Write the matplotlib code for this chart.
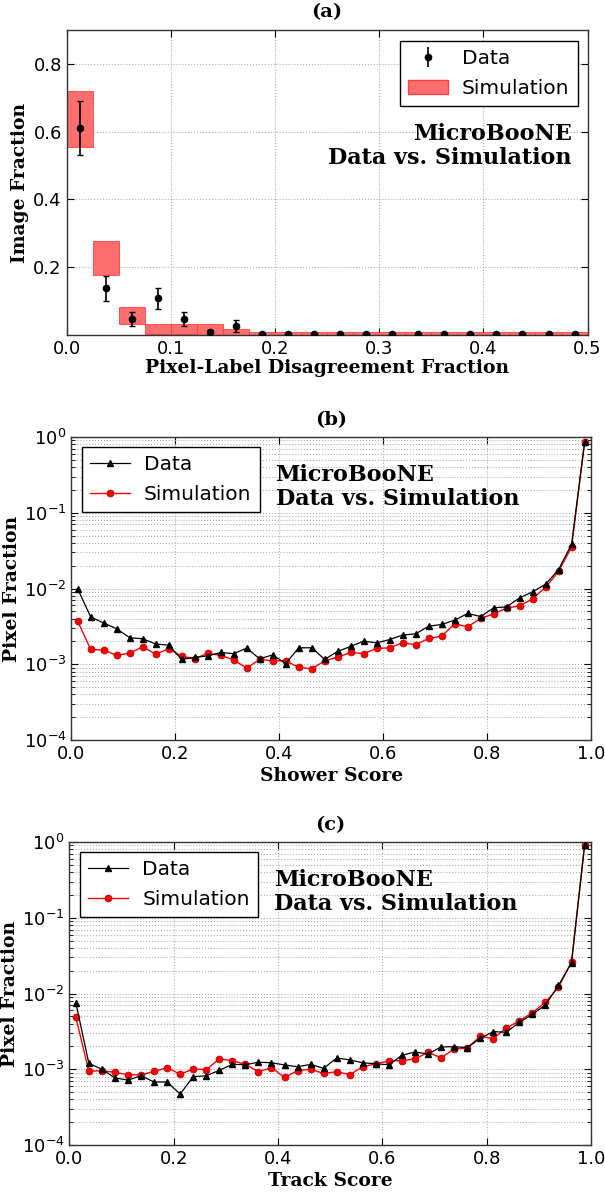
import matplotlib
matplotlib.use("Agg")
import matplotlib.pyplot as plt
from matplotlib.patches import Patch
from matplotlib.ticker import LogLocator, NullFormatter
import numpy as np

# ---- panel (a): pixel-label disagreement, 20 bins of 0.025 ----
dis_edges = np.arange(0, 0.5001, 0.025)
dis_data = [0.611, 0.138, 0.048, 0.108, 0.048, 0.010, 0.027,
            0.004, 0.004, 0.004, 0.004, 0.004, 0.004, 0.004,
            0.004, 0.004, 0.004, 0.004, 0.004, 0.004]
dis_err = [0.079, 0.037, 0.021, 0.032, 0.021, 0.005, 0.017,
           0.003, 0.003, 0.003, 0.003, 0.003, 0.003, 0.003,
           0.003, 0.003, 0.003, 0.003, 0.003, 0.003]
dis_sim_lo = [0.556, 0.178, 0.033, 0.003, 0.003, 0.0, 0.0,
              0.0, 0.0, 0.0, 0.0, 0.0, 0.0, 0.0,
              0.0, 0.0, 0.0, 0.0, 0.0, 0.0]
dis_sim_hi = [0.719, 0.276, 0.082, 0.033, 0.033, 0.031, 0.017,
              0.009, 0.009, 0.009, 0.009, 0.009, 0.009, 0.009,
              0.009, 0.009, 0.009, 0.009, 0.009, 0.009]

# ---- panels (b), (c): 40 bins of 0.025 ----
score_x = np.arange(0.0125, 1.0, 0.025)
shower_data = [0.0098, 0.0042, 0.0035, 0.00294, 0.00224, 0.00217, 0.00185, 0.00179,
               0.00116, 0.00123, 0.00129, 0.00143, 0.00138, 0.00163, 0.00118, 0.00133,
               0.00102, 0.00165, 0.00165, 0.00116, 0.00148, 0.00172, 0.00202, 0.00192,
               0.00212, 0.00243, 0.00252, 0.00318, 0.00335, 0.00382, 0.00468, 0.00427,
               0.00556, 0.00573, 0.00753, 0.00904, 0.0114, 0.0178, 0.0385, 0.85]
shower_sim = [0.00367, 0.00157, 0.00154, 0.00131, 0.00140, 0.00170, 0.00136, 0.00160,
              0.00127, 0.00119, 0.00139, 0.00131, 0.00114, 0.00089, 0.00116, 0.00111,
              0.00111, 0.00091, 0.00087, 0.00111, 0.00124, 0.00143, 0.00138, 0.00162,
              0.00165, 0.00192, 0.00181, 0.00219, 0.00235, 0.00342, 0.00312, 0.00402,
              0.00463, 0.00550, 0.00591, 0.00731, 0.0104, 0.0168, 0.0351, 0.85]
track_data = [0.00759, 0.0012, 0.0010, 0.00077, 0.00072, 0.00082, 0.00068, 0.00068,
              0.00047, 0.0008, 0.00082, 0.00097, 0.00116, 0.00115, 0.00124, 0.00122,
              0.00114, 0.00108, 0.00116, 0.00103, 0.00141, 0.00133, 0.00122, 0.00118,
              0.00115, 0.00153, 0.00169, 0.00159, 0.00197, 0.00199, 0.00193, 0.00256,
              0.00314, 0.00308, 0.00417, 0.00531, 0.00706, 0.0128, 0.0255, 0.90]
track_sim = [0.0049, 0.00094, 0.00096, 0.00091, 0.00085, 0.00084, 0.00094, 0.00105,
             0.00086, 0.00101, 0.00099, 0.00137, 0.0013, 0.00116, 0.00093, 0.00105,
             0.00078, 0.00096, 0.0010, 0.00088, 0.00093, 0.00085, 0.00108, 0.00118,
             0.00129, 0.0013, 0.00137, 0.00167, 0.00142, 0.00185, 0.00191, 0.00272,
             0.00254, 0.00351, 0.00434, 0.00559, 0.00766, 0.0121, 0.0261, 0.90]

SERIF = "DejaVu Serif"
TAG = "MicroBooNE\nData vs. Simulation"
GRID = dict(color="#b0b0b0", linestyle=":", linewidth=0.8)
SIM_FILL = "#ff6e6e"
SIM_EDGE = "#ff4040"


def style_axes(ax):
    ax.tick_params(direction="in", top=True, right=True, labelsize=13,
                   length=5, width=0.8)
    ax.tick_params(which="minor", direction="in", top=True, right=True, length=3)
    for s in ax.spines.values():
        s.set_linewidth(1.0)
        s.set_color("#333333")


def bold(ax, txt, **kw):
    return ax.text(s=txt, family=SERIF, fontweight="bold", transform=ax.transAxes, **kw)


LEG = dict(fontsize=14.5, fancybox=False, framealpha=1, edgecolor="k",
           borderpad=0.4, borderaxespad=0, handlelength=2.0, handletextpad=0.7,
           labelspacing=0.55)

fig = plt.figure(figsize=(6.05, 11.93), dpi=100)

# ---------------- (a) ----------------
ax = fig.add_axes([0.1102, 0.7192, 0.861, 0.2557])
lo = np.array(dis_sim_lo)
hi = np.array(dis_sim_hi)
ax.bar(dis_edges[:-1], hi - lo, bottom=lo, width=0.025, align="edge",
       color=SIM_FILL, edgecolor=SIM_EDGE, linewidth=0.6, zorder=2)
centers = dis_edges[:-1] + 0.0125
ax.errorbar(centers, dis_data, yerr=dis_err, fmt="o", color="k", ms=4.5,
            capsize=2, elinewidth=1.2, capthick=1.0, zorder=3)
ax.set_xlim(0, 0.5)
ax.set_ylim(0, 0.9)
ax.set_yticks([0.2, 0.4, 0.6, 0.8])
ax.set_xticks(np.arange(0, 0.51, 0.1))
ax.set_xticklabels(["0.0", "0.1", "0.2", "0.3", "0.4", "0.5"])
ax.grid(True, **GRID)
ax.set_axisbelow(True)
style_axes(ax)
ax.set_xlabel("Pixel-Label Disagreement Fraction", family=SERIF, fontweight="bold", fontsize=13.5)
ax.set_ylabel("Image Fraction", family=SERIF, fontweight="bold", fontsize=13.5)
ax.xaxis.set_label_coords(0.5, -0.08)
ax.yaxis.set_label_coords(-0.072, 0.5)
bold(ax, "(a)", x=0.5, y=1.06, ha="center", va="center", fontsize=14)
bold(ax, TAG, x=0.97, y=0.62, ha="right", va="center", fontsize=16, linespacing=1.15)
h_data = ax.errorbar([], [], yerr=[], fmt="o", color="k", ms=4.5, capsize=2, elinewidth=1.2)
h_sim = Patch(facecolor=SIM_FILL, edgecolor=SIM_EDGE)
leg = ax.legend([h_data, h_sim], ["Data", "Simulation"], loc="upper right",
                bbox_to_anchor=(0.981, 0.965), **LEG)
leg.get_frame().set_linewidth(1.0)


def score_panel(rect, data, sim, xlabel, tag):
    ax = fig.add_axes(rect)
    ax.plot(score_x, data, color="k", lw=0.9, marker="^", ms=4.5, label="Data", zorder=3)
    ax.plot(score_x, sim, color="red", lw=1.0, marker="o", ms=5, mfc="red",
            mec="#b00000", mew=0.5, label="Simulation", zorder=2)
    ax.set_yscale("log")
    ax.set_xlim(0, 1)
    ax.set_ylim(1e-4, 1)
    ax.yaxis.set_minor_locator(LogLocator(base=10, subs=np.arange(2, 10)))
    ax.yaxis.set_minor_formatter(NullFormatter())
    ax.set_xticks(np.arange(0, 1.01, 0.2))
    ax.set_xticklabels(["0.0", "0.2", "0.4", "0.6", "0.8", "1.0"])
    ax.grid(True, which="major", **GRID)
    ax.grid(True, which="minor", axis="y", **GRID)
    style_axes(ax)
    ax.set_xlabel(xlabel, family=SERIF, fontweight="bold", fontsize=13.5)
    ax.set_ylabel("Pixel Fraction", family=SERIF, fontweight="bold", fontsize=13.5)
    ax.xaxis.set_label_coords(0.5, -0.089)
    ax.yaxis.set_label_coords(-0.096, 0.5)
    bold(ax, "(" + tag + ")", x=0.5, y=1.056, ha="center", va="center", fontsize=14)
    bold(ax, TAG, x=0.393, y=0.835, ha="left", va="center", fontsize=16, linespacing=1.15)
    leg = ax.legend(loc="upper left", bbox_to_anchor=(0.02, 0.967), **LEG)
    leg.get_frame().set_linewidth(1.0)
    return ax


score_panel([0.1178, 0.3797, 0.8592, 0.254], shower_data, shower_sim, "Shower Score", "b")
score_panel([0.1145, 0.0402, 0.8625, 0.254], track_data, track_sim, "Track Score", "c")

fig.savefig("out.png", dpi=100)
